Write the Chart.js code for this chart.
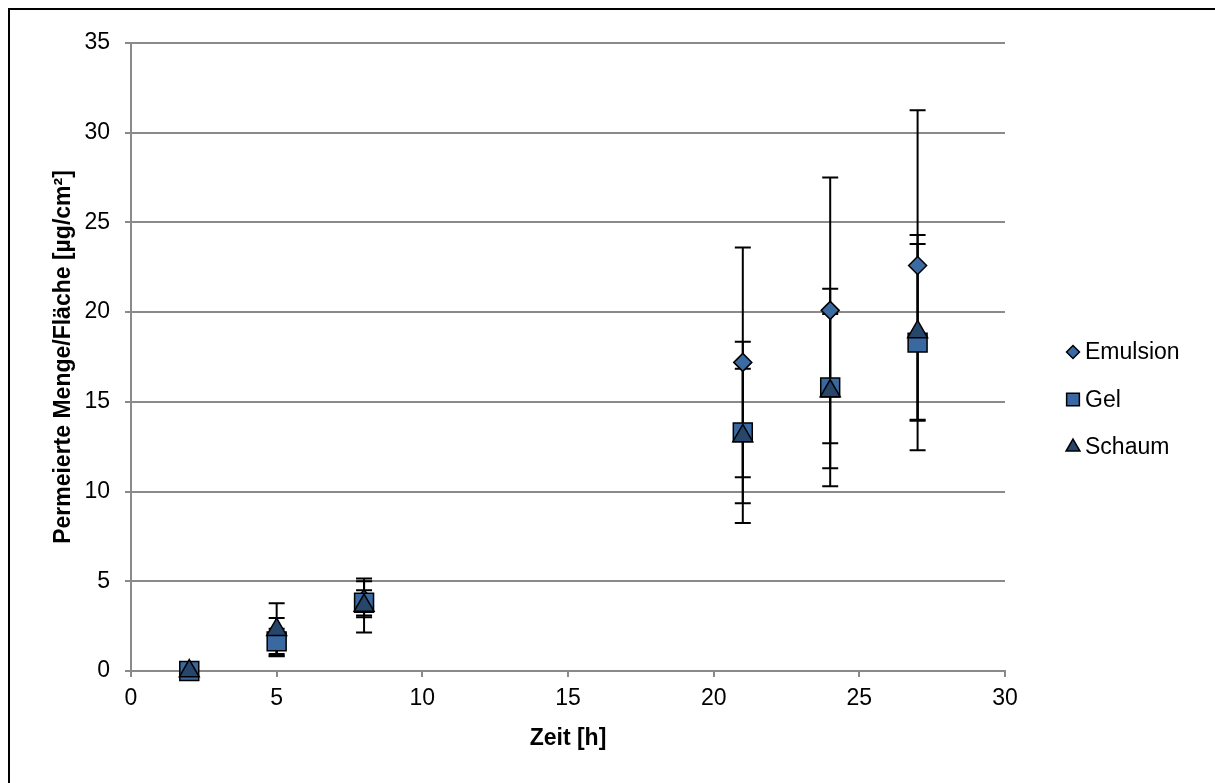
<!DOCTYPE html>
<html>
<head>
<meta charset="utf-8">
<script src="https://cdn.jsdelivr.net/npm/chart.js@4.4.1/dist/chart.umd.min.js"></script>
<style>
  html, body { margin: 0; padding: 0; background: #fff; }
  #wrap { position: relative; width: 1215px; height: 783px; overflow: hidden; }
  #frame { position: absolute; left: 8px; top: 8px; right: -10px; bottom: -10px;
           border-left: 2px solid #000; border-top: 2px solid #000; pointer-events: none; }
</style>
</head>
<body>
<div id="wrap">
  <canvas id="chart" width="1215" height="783"></canvas>
  <div id="frame"></div>
</div>
<script>
// Zeitpunkte [h]
const hours = [2, 5, 8, 21, 24, 27];

// Mittelwerte [µg/cm²]
const emulsion = [0, 1.9, 4.0, 17.2, 20.1, 22.6];
const gel      = [0, 1.65, 3.8, 13.3, 15.8, 18.3];
const schaum   = [0, 2.3, 3.65, 13.1, 15.6, 18.9];

// Standardabweichungen
const emulsionErr = [0, 1.05, 1.0, 6.4, 7.4, 8.65];
const gelErr      = [0, 0.7, 0.7, 5.05, 5.5, 6.0];
const schaumErr   = [0, 1.48, 1.5, 3.75, 4.3, 4.9];

const seriesNames = ['Emulsion', 'Gel', 'Schaum'];
const xTicks = [0, 5, 10, 15, 20, 25, 30];
const yTicks = [0, 5, 10, 15, 20, 25, 30, 35];

const FONT = '"Liberation Sans", Arial, sans-serif';
const GRID = '#8a8a8a';

const toPoints = (ys) => hours.map((h, i) => ({ x: h, y: ys[i] }));

// Fehlerbalken unter die Marker zeichnen
const errorBars = {
  id: 'errorBars',
  beforeDatasetsDraw(chart) {
    const ctx = chart.ctx;
    const y = chart.scales.y;
    ctx.save();
    ctx.strokeStyle = '#000';
    ctx.lineWidth = 2;
    chart.data.datasets.forEach((ds, di) => {
      const meta = chart.getDatasetMeta(di);
      meta.data.forEach((pt, i) => {
        const e = ds.errors[i];
        if (!e) return;
        const v = ds.data[i].y;
        const top = y.getPixelForValue(v + e);
        const bot = y.getPixelForValue(v - e);
        ctx.beginPath();
        ctx.moveTo(pt.x, top); ctx.lineTo(pt.x, bot);
        ctx.moveTo(pt.x - 8, top); ctx.lineTo(pt.x + 8, top);
        ctx.moveTo(pt.x - 8, bot); ctx.lineTo(pt.x + 8, bot);
        ctx.stroke();
      });
    });
    ctx.restore();
  }
};

// Legende rechts neben dem Diagramm
const sideLegend = {
  id: 'sideLegend',
  afterDraw(chart) {
    const ctx = chart.ctx;
    const a = chart.chartArea;
    const x = a.right + 68;
    const sizes = [6.5, 9, 8];
    ctx.save();
    chart.data.datasets.forEach((ds, i) => {
      const yy = a.top + 309 + i * 47.5;
      ctx.fillStyle = ds.backgroundColor;
      ctx.strokeStyle = '#000';
      ctx.lineWidth = 1.5;
      Chart.helpers.drawPoint(ctx, { pointStyle: ds.pointStyle, radius: sizes[i], borderWidth: 1.5, rotation: 0 }, x, yy);
      ctx.fillStyle = '#000';
      ctx.font = '23px ' + FONT;
      ctx.textAlign = 'left';
      ctx.textBaseline = 'middle';
      ctx.fillText(ds.label, x + 12, yy + 1);
    });
    ctx.restore();
  }
};

new Chart(document.getElementById('chart'), {
  type: 'scatter',
  data: {
    datasets: [
      { label: seriesNames[0], data: toPoints(emulsion), errors: emulsionErr, order: 3, clip: false,
        pointStyle: 'rectRot', pointRadius: 9, backgroundColor: '#3b6ba3',
        borderColor: '#000', pointBorderWidth: 1.5 },
      { label: seriesNames[1], data: toPoints(gel), errors: gelErr, order: 2, clip: false,
        pointStyle: 'rect', pointRadius: 13.4, backgroundColor: '#3a69a1',
        borderColor: '#000', pointBorderWidth: 1.5 },
      { label: seriesNames[2], data: toPoints(schaum), errors: schaumErr, order: 1, clip: false,
        pointStyle: 'triangle', pointRadius: 11.5, backgroundColor: '#26466c',
        borderColor: '#000', pointBorderWidth: 1.5 }
    ]
  },
  options: {
    responsive: false,
    animation: false,
    layout: { padding: { left: 46, top: 43, right: 210, bottom: 27 } },
    plugins: { legend: { display: false }, tooltip: { enabled: false } },
    scales: {
      x: {
        type: 'linear', min: 0, max: 30,
        afterBuildTicks: (s) => { s.ticks = xTicks.map(v => ({ value: v })); },
        afterFit: (s) => { s.height = 85; },
        ticks: { color: '#000', font: { family: FONT, size: 23 }, padding: 8 },
        grid: { drawOnChartArea: false, drawTicks: true, tickLength: 6, color: GRID, lineWidth: 2 },
        border: { color: GRID, width: 2 },
        title: { display: true, text: 'Zeit [h]', color: '#000',
                 font: { family: FONT, size: 23, weight: 'bold' }, padding: { top: 4, bottom: 4 } }
      },
      y: {
        type: 'linear', min: 0, max: 35,
        afterBuildTicks: (s) => { s.ticks = yTicks.map(v => ({ value: v })); },
        afterFit: (s) => { s.width = 85; },
        ticks: { color: '#000', font: { family: FONT, size: 23 }, padding: 15 },
        grid: { color: GRID, lineWidth: 2, tickLength: 6 },
        border: { color: GRID, width: 2 },
        title: { display: true, text: 'Permeierte Menge/Fläche [µg/cm²]', color: '#000',
                 font: { family: FONT, size: 23, weight: 'bold' }, padding: { top: 4, bottom: 4 } }
      }
    }
  },
  plugins: [errorBars, sideLegend]
});
</script>
</body>
</html>
